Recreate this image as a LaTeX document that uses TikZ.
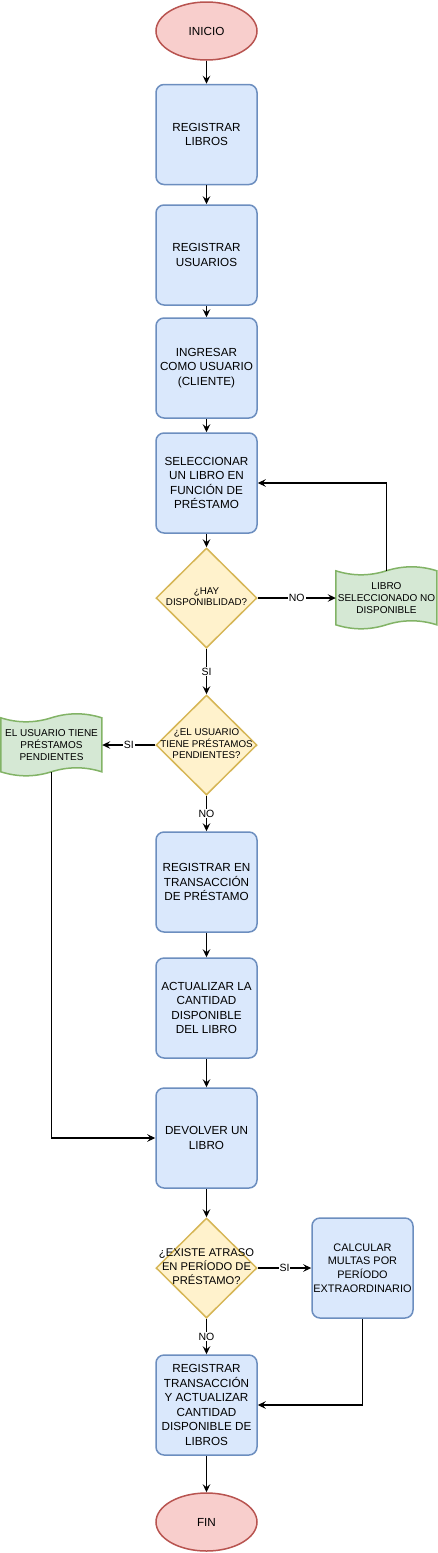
\documentclass[tikz,border=0pt]{standalone}
\usepackage{fontspec}
\setmainfont{Liberation Sans}
\usetikzlibrary{shapes.geometric,arrows.meta,backgrounds}
\definecolor{bfill}{HTML}{DAE8FC}
\definecolor{bdraw}{HTML}{6C8EBF}
\definecolor{rfill}{HTML}{F8CECC}
\definecolor{rdraw}{HTML}{B85450}
\definecolor{yfill}{HTML}{FFF2CC}
\definecolor{ydraw}{HTML}{D6B656}
\definecolor{gfill}{HTML}{D5E8D4}
\definecolor{gdraw}{HTML}{82B366}
\newcommand\boxfont{\fontsize{11.7}{14.5}\selectfont}
\newcommand\calcfont{\fontsize{10.9}{13.6}\selectfont}
\newcommand\decfont{\fontsize{11.2}{13.8}\selectfont}
\newcommand\smallfont{\fontsize{9.8}{11.3}\selectfont}
\newcommand\tapefont{\fontsize{10}{12}\selectfont}
\newcommand\labfont{\fontsize{10.5}{12}\selectfont}
\newcommand\tapeoutline[1]{%
  \begin{scope}[shift={(#1.north west)}]
    \filldraw[tapeline] (0,0) .. controls (16.83,5.33) and (33.67,5.33) .. (50.5,0)
      .. controls (67.33,-5.33) and (84.17,-5.33) .. (101,0) -- (101,54)
      .. controls (84.17,48.67) and (67.33,48.67) .. (50.5,54)
      .. controls (33.67,59.33) and (16.83,59.33) .. (0,54) -- cycle;
  \end{scope}}
\begin{document}
\begin{tikzpicture}[x=1pt,y=-1pt,
  box/.style={rectangle, rounded corners=8pt, draw=bdraw, fill=bfill, line width=1.5pt,
    minimum width=101pt, minimum height=100pt, inner sep=0pt, align=center, font=\boxfont},
  term/.style={ellipse, draw=rdraw, fill=rfill, line width=1.5pt,
    minimum width=101pt, minimum height=58pt, inner sep=0pt, font=\boxfont},
  dec/.style={diamond, draw=ydraw, fill=yfill, line width=1.5pt,
    minimum width=101pt, minimum height=100pt, inner sep=0pt},
  tapebox/.style={rectangle, minimum width=101pt, minimum height=54pt, inner sep=0pt,
    align=center, font=\tapefont},
  tapeline/.style={draw=gdraw, fill=gfill, line width=1.5pt},
  conn/.style={-{Stealth[length=8pt,width=7.5pt,inset=3pt]}, line width=1.1pt},
  lab/.style={fill=white, inner sep=1pt, font=\labfont}]
\useasboundingbox (0,0) rectangle (438,1553);

\node[term] (inicio) at (206.5,31) {INICIO};
\node[box] (b1) at (206.5,134.5) {REGISTRAR\\LIBROS};
\node[box] (b2) at (206.5,255) {REGISTRAR\\USUARIOS};
\node[box] (b3) at (206.5,368) {INGRESAR\\COMO USUARIO\\(CLIENTE)};
\node[box] (b4) at (206.5,483) {SELECCIONAR\\UN LIBRO EN\\FUNCIÓN DE\\PRÉSTAMO};
\node[dec, font=\smallfont] (d1) at (206.5,598)
  {\makebox[0pt]{\begin{tabular}{@{}c@{}}¿HAY\\DISPONIBLIDAD?\end{tabular}}};
\node[tapebox] (t1) at (386.5,598) {LIBRO\\SELECCIONADO NO\\DISPONIBLE};
\node[dec, font=\smallfont] (d2) at (206.5,745)
  {\makebox[0pt]{\begin{tabular}{@{}c@{}}¿EL USUARIO\\TIENE PRÉSTAMOS\\PENDIENTES?\end{tabular}}};
\node[tapebox] (t2) at (51.5,745) {EL USUARIO TIENE\\PRÉSTAMOS\\PENDIENTES};
\node[box] (b5) at (206.5,882) {REGISTRAR EN\\TRANSACCIÓN\\DE PRÉSTAMO};
\node[box] (b6) at (206.5,1008) {ACTUALIZAR LA\\CANTIDAD\\DISPONIBLE\\DEL LIBRO};
\node[box] (b7) at (206.5,1138) {DEVOLVER UN\\LIBRO};
\node[dec, font=\decfont] (d3) at (206.5,1268)
  {\makebox[0pt]{\begin{tabular}{@{}c@{}}¿EXISTE ATRASO\\EN PERÍODO DE\\PRÉSTAMO?\end{tabular}}};
\node[box, font=\calcfont] (b8) at (362.5,1268) {CALCULAR\\MULTAS POR\\PERÍODO\\EXTRAORDINARIO};
\node[box] (b9) at (206.5,1405) {REGISTRAR\\TRANSACCIÓN\\Y ACTUALIZAR\\CANTIDAD\\DISPONIBLE DE\\LIBROS};
\node[term] (fin) at (206.5,1522) {FIN};

\begin{pgfonlayer}{background}
  \tapeoutline{t1}
  \tapeoutline{t2}
\end{pgfonlayer}

\draw[conn] (inicio) -- (b1);
\draw[conn] (b1) -- (b2);
\draw[conn] (b2) -- (b3);
\draw[conn] (b3) -- (b4);
\draw[conn] (b4) -- (d1);
\draw[conn] (d1.east) -- node[lab] {NO} (t1.west);
\draw[conn] (t1.north) |- (b4.east);
\draw[conn] (d1.south) -- node[lab] {SI} (d2.north);
\draw[conn] (d2.west) -- node[lab] {SI} (t2.east);
\draw[conn] (t2.south) |- (b7.west);
\draw[conn] (d2.south) -- node[lab] {NO} (b5.north);
\draw[conn] (b5) -- (b6);
\draw[conn] (b6) -- (b7);
\draw[conn] (b7) -- (d3);
\draw[conn] (d3.east) -- node[lab] {SI} (b8.west);
\draw[conn] (d3.south) -- node[lab] {NO} (b9.north);
\draw[conn] (b8.south) |- (b9.east);
\draw[conn] (b9) -- (fin);
\end{tikzpicture}
\end{document}
